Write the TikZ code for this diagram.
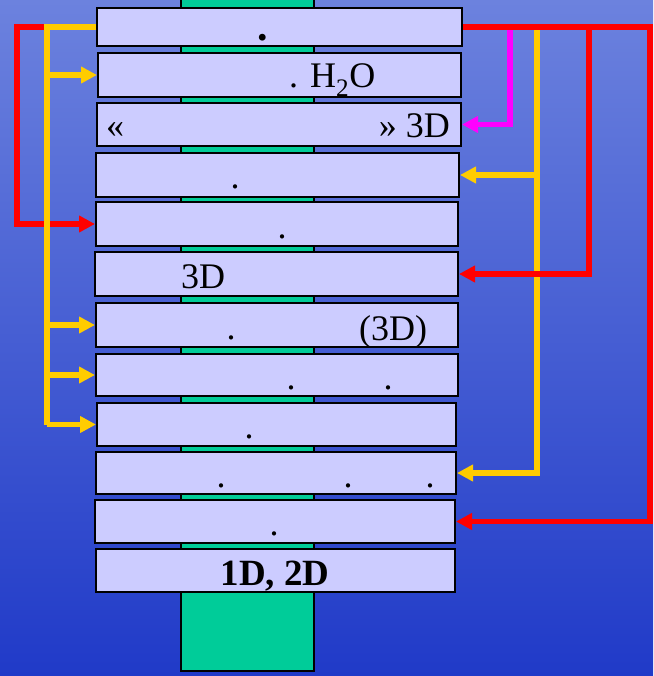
\documentclass[tikz,border=0pt]{standalone}
\usepackage{fontspec}
\setmainfont{Liberation Serif}
\usetikzlibrary{arrows.meta}
\definecolor{bgtop}{RGB}{108,130,222}
\definecolor{bgbot}{RGB}{32,58,200}
\definecolor{trunk}{RGB}{0,204,153}
\definecolor{boxfill}{RGB}{204,204,255}
\definecolor{ylw}{RGB}{255,204,0}
\definecolor{mag}{RGB}{255,0,255}
\tikzset{
  layerbox/.style 2 args={draw=black, fill=boxfill, line width=2.2pt, inner sep=0pt, minimum width=#1, minimum height=#2},
  lbl/.style={inner sep=0pt, font=\fontsize{36}{40}\selectfont},
  conn/.style={line width=5.5pt, line join=miter, -{Triangle[length=16pt,width=16pt]}},
  plain/.style={line width=5.5pt, line join=miter},
}
\begin{document}
\begin{tikzpicture}[x=1pt,y=-1pt]
\useasboundingbox (0,0) rectangle (653,676);
\shade[top color=bgtop, bottom color=bgbot] (0,0) rectangle (653,676);
% trunk
\draw[fill=trunk, draw=black, line width=2pt] (181,-5) rectangle (314,671);
% boxes
\node[layerbox={364.8pt}{37.8pt}] (b1) at (279.5,27) {};
\node[layerbox={362.8pt}{43.8pt}] (b2) at (279.5,75) {};
\node[layerbox={363.8pt}{42.8pt}] (b3) at (279,124.5) {};
\node[layerbox={362.8pt}{43.8pt}] (b4) at (277.5,175) {};
\node[layerbox={361.8pt}{43.8pt}] (b5) at (277,224) {};
\node[layerbox={362.8pt}{43.8pt}] (b6) at (276.5,274) {};
\node[layerbox={361.8pt}{43.8pt}] (b7) at (277,325) {};
\node[layerbox={361.8pt}{41.8pt}] (b8) at (277,375) {};
\node[layerbox={358.8pt}{42.8pt}] (b9) at (276.5,424.5) {};
\node[layerbox={359.8pt}{41.8pt}] (b10) at (276,473) {};
\node[layerbox={359.8pt}{42.8pt}] (b11) at (275,521.5) {};
\node[layerbox={358.8pt}{42.8pt}] (b12) at (275.5,570.5) {};
% texts
\node[lbl, anchor=base, font=\fontsize{42}{44}\selectfont\bfseries] (t1) at (263,41) {.};
\node[lbl, anchor=base west] (t2) at (289,88) {. H\textsubscript{\raisebox{-1.5pt}{2}}O};
\node[lbl, anchor=base west] (t3a) at (106,138) {«};
\node[lbl, anchor=base east] (t3b) at (450,138) {» 3D};
\node[lbl, anchor=base] (t4) at (235,189) {.};
\node[lbl, anchor=base] (t5) at (282,238) {.};
\node[lbl, anchor=base west] (t6) at (181,288) {3D};
\node[lbl, anchor=base] (t7a) at (231,339) {.};
\node[lbl, anchor=base west] (t7b) at (359,340) {(3D)};
\node[lbl, anchor=base] (t8a) at (291,389) {.};
\node[lbl, anchor=base] (t8b) at (388,389) {.};
\node[lbl, anchor=base] (t9) at (249,438) {.};
\node[lbl, anchor=base] (t10a) at (221,487) {.};
\node[lbl, anchor=base] (t10b) at (348,487) {.};
\node[lbl, anchor=base] (t10c) at (430,487) {.};
\node[lbl, anchor=base] (t11) at (274,535) {.};
\node[lbl, anchor=base, font=\fontsize{37}{40}\selectfont\bfseries] (t12) at (275,585) {1D, 2D};
% connector coordinates
\coordinate (mx) at (510,0);
\coordinate (yr) at (537,0);
\coordinate (rb) at (589,0);
\coordinate (rr) at (650,0);
\coordinate (rl) at (17,0);
\coordinate (yl) at (47,0);
% magenta
\draw[conn, mag] (b1.east -| mx) -- (mx |- b3.east) -- (b3.east);
% yellow right
\draw[conn, ylw] (b1.east -| yr) -- (yr |- b4.east) -- (b4.east);
\draw[conn, ylw] (yr |- b4.east) -- (yr |- b10.east) -- (b10.east);
% red right
\draw[conn, red] (b1.east) -- (b1.east -| rr) -- (rr |- b11.east) -- (b11.east);
\draw[conn, red] (b1.east -| rb) -- (rb |- b6.east) -- (b6.east);
% red left
\draw[conn, red] (b1.west) -- (b1.west -| rl) -- (rl |- b5.west) -- (b5.west);
% yellow left
\draw[plain, ylw] (b1.west) -- (b1.west -| yl) -- (yl |- b9.west);
\draw[conn, ylw] (yl |- b2.west) -- (b2.west);
\draw[conn, ylw] (yl |- b7.west) -- (b7.west);
\draw[conn, ylw] (yl |- b8.west) -- (b8.west);
\draw[conn, ylw] (yl |- b9.west) -- (b9.west);
\end{tikzpicture}
\end{document}
